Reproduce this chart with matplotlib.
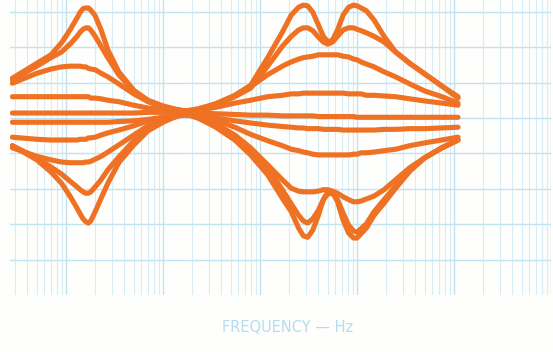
import matplotlib
matplotlib.use("Agg")
import matplotlib.pyplot as plt
from matplotlib.ticker import LogLocator, MultipleLocator, NullFormatter

# frequency points (Hz)
freq = [2.8, 5, 7, 9, 11, 13, 14, 15, 16, 17, 18, 20, 23, 27, 35, 50, 70, 100, 130, 170,
        230, 350, 550, 800, 1200, 1700, 2100, 2500, 2800, 3100, 3500, 4000, 4500, 5000,
        5600, 6300, 7200, 8200, 9200, 10000, 11000, 12500, 15000, 19000, 25000, 35000,
        50000, 75000, 110000]

# response curves (dB)
boost_max = [5.6, 7.7, 8.9, 10.6, 12.4, 14.1, 14.9, 15.4, 15.5, 15.5, 15.2, 14.4, 12.4, 9.6, 6.5,
             3.9, 2.5, 1.7, 1.3, 1.0, 1.1, 2.0, 3.2, 4.6, 8.5, 12.1, 14.5, 15.6, 15.9, 15.8, 14.9,
             13.1, 11.5, 10.7, 11.0, 12.4, 14.5, 15.6, 15.9, 15.8, 15.5, 15.1, 13.8, 11.5, 9.3,
             7.7, 6.2, 4.5, 3.0]
boost_2 = [5.4, 7.3, 8.5, 9.3, 10.4, 11.5, 12.1, 12.5, 12.7, 12.7, 12.4, 11.5, 10.1, 8.5, 6.1,
           3.8, 2.4, 1.5, 1.1, 1.0, 1.1, 1.8, 3.0, 4.2, 7.3, 10.1, 11.5, 12.4, 12.7, 12.7, 12.3,
           11.4, 10.7, 10.4, 10.7, 11.5, 12.4, 12.7, 12.7, 12.5, 12.3, 12.0, 11.5, 10.7, 9.3,
           7.7, 6.2, 4.5, 2.8]
boost_3 = [4.9, 6.3, 6.9, 7.2, 7.3, 7.3, 7.3, 7.2, 7.2, 7.0, 6.9, 6.8, 6.3, 5.8, 4.8,
           3.4, 2.3, 1.5, 1.1, 1.0, 1.3, 2.0, 3.1, 4.4, 6.1, 7.3, 7.9, 8.3, 8.5, 8.6, 8.7,
           8.9, 8.9, 8.9, 8.9, 8.9, 8.7, 8.6, 8.3, 8.2, 7.9, 7.6, 7.2, 6.5, 5.8,
           4.8, 3.8, 3.0, 2.1]
boost_4 = [3.0, 3.0, 3.0, 3.0, 3.0, 3.0, 3.0, 3.0, 3.0, 3.0, 2.8, 2.8, 2.7, 2.5, 2.3,
           1.8, 1.4, 1.1, 1.0, 1.0, 1.1, 1.5, 2.1, 2.5, 3.0, 3.2, 3.4, 3.4, 3.5, 3.5, 3.5,
           3.5, 3.5, 3.5, 3.5, 3.5, 3.5, 3.4, 3.4, 3.4, 3.4, 3.2, 3.2, 3.1, 3.0,
           2.7, 2.4, 2.1, 1.8]
boost_5 = [0.7, 0.7, 0.7, 0.7, 0.7, 0.7, 0.7, 0.7, 0.7, 0.7, 0.7, 0.7, 0.7, 0.7, 0.7,
           0.7, 0.8, 0.8, 0.8, 0.8, 0.7, 0.6, 0.5, 0.4, 0.4, 0.3, 0.3, 0.3, 0.3, 0.3, 0.3,
           0.2, 0.2, 0.2, 0.2, 0.2, 0.2, 0.2, 0.2, 0.1, 0.1, 0.1, 0.1, 0.1, 0.1,
           0.1, 0.1, 0.1, 0.1]
cut_5 = [-0.6, -0.6, -0.6, -0.6, -0.6, -0.6, -0.6, -0.6, -0.6, -0.6, -0.6, -0.6, -0.6, -0.6, -0.5,
         -0.4, -0.2, 0.1, 0.3, 0.4, 0.3, 0.0, -0.4, -0.7, -1.0, -1.2, -1.3, -1.4, -1.4, -1.5, -1.5,
         -1.5, -1.6, -1.6, -1.6, -1.6, -1.7, -1.7, -1.7, -1.7, -1.7, -1.7, -1.7, -1.6, -1.6,
         -1.5, -1.5, -1.4, -1.3]
cut_4 = [-2.7, -3.0, -3.1, -3.1, -3.1, -3.1, -3.0, -3.0, -3.0, -2.8, -2.8, -2.7, -2.4, -2.1, -1.7,
         -1.1, -0.4, 0.0, 0.3, 0.4, 0.3, -0.3, -1.3, -2.3, -3.2, -3.9, -4.4, -4.6, -4.8, -4.9, -5.1,
         -5.2, -5.2, -5.2, -5.2, -5.2, -5.2, -5.2, -5.1, -5.1, -4.9, -4.9, -4.8, -4.6, -4.4,
         -3.9, -3.5, -3.1, -2.7]
cut_3 = [-4.2, -5.4, -5.9, -6.2, -6.3, -6.3, -6.3, -6.3, -6.2, -6.2, -6.1, -5.8, -5.4, -4.8, -3.8,
         -2.4, -1.1, -0.3, 0.3, 0.6, 0.1, -0.8, -2.4, -4.2, -6.6, -8.7, -9.9, -10.3, -10.4, -10.4, -10.4,
         -10.3, -10.1, -10.1, -10.3, -10.6, -11.1, -11.5, -11.8, -11.8, -11.7, -11.4, -11.0, -10.1, -8.7,
         -7.0, -5.6, -4.2, -3.1]
cut_2 = [-3.9, -5.6, -6.9, -7.9, -8.9, -9.7, -10.1, -10.4, -10.6, -10.6, -10.4, -9.7, -8.7, -7.3, -5.5,
         -3.2, -1.5, -0.4, 0.1, 0.6, 0.0, -1.1, -2.7, -4.5, -7.0, -10.1, -12.1, -13.7, -14.5, -14.8, -14.2,
         -13.0, -11.5, -10.7, -10.6, -11.5, -13.4, -15.1, -15.9, -16.1, -15.6, -14.9, -13.2, -11.5, -9.6,
         -7.3, -5.6, -4.2, -3.1]
cut_max = [-3.9, -5.9, -7.6, -9.2, -11.0, -12.7, -13.5, -14.2, -14.6, -14.8, -14.5, -13.2, -11.3, -9.2, -6.3,
           -3.8, -1.8, -0.6, 0.1, 0.6, 0.0, -1.3, -3.1, -5.2, -8.0, -11.3, -13.2, -15.5, -16.6, -16.8, -15.8,
           -13.7, -11.5, -10.4, -10.4, -11.8, -14.4, -16.2, -16.9, -16.9, -16.3, -15.5, -13.7, -12.0, -9.9,
           -7.5, -5.6, -4.2, -3.1]

curves = [boost_max, boost_2, boost_3, boost_4, boost_5, cut_5, cut_4, cut_3, cut_2, cut_max]

W, H = 553, 352
fig = plt.figure(figsize=(W / 100, H / 100), dpi=100, facecolor="#FEFEFC")
ax = fig.add_axes([10 / W, (H - 295) / H, 541 / W, 295 / H])
ax.set_facecolor("#FEFEFC")

ax.set_xscale("log")
ax.set_xlim(2.647, 1.0e6)
ax.set_ylim(-24.93, 16.62)

ax.xaxis.set_major_locator(LogLocator(base=10, numticks=12))
ax.xaxis.set_minor_locator(LogLocator(base=10, subs=range(2, 10), numticks=12))
ax.xaxis.set_major_formatter(NullFormatter())
ax.xaxis.set_minor_formatter(NullFormatter())
ax.yaxis.set_major_locator(MultipleLocator(5))
ax.yaxis.set_major_formatter(NullFormatter())
ax.tick_params(which="both", length=0)

ax.grid(True, which="major", axis="both", color="#C2E3F1", linewidth=1.0)
ax.grid(True, which="minor", axis="x", color="#D6EDF6", linewidth=0.8)
ax.set_axisbelow(True)
for s in ax.spines.values():
    s.set_visible(False)

for c in curves:
    ax.plot(freq, c, color="#EF7224", linewidth=3.7, solid_capstyle="round",
            solid_joinstyle="round")

fig.text(288 / W, 1 - 327 / H, "FREQUENCY — Hz", color="#B5DDEF", fontsize=10.5,
         ha="center", va="center")

fig.savefig("out.png", dpi=100, facecolor=fig.get_facecolor())
